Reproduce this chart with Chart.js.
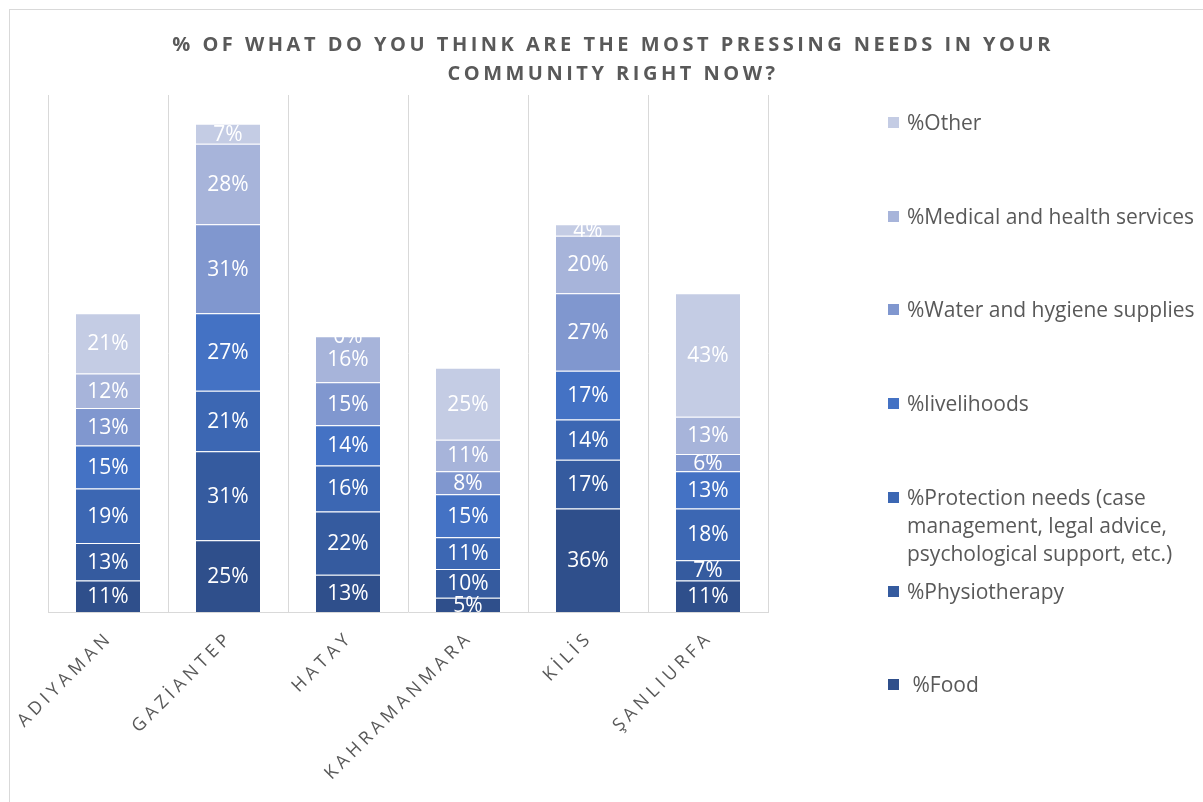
<!DOCTYPE html>
<html>
<head>
<meta charset="utf-8">
<script src="https://cdn.jsdelivr.net/npm/chart.js@4.4.0/dist/chart.umd.min.js"></script>
<style>
  html, body { margin: 0; padding: 0; background: #fff; overflow: hidden; }
  #frame { position: absolute; left: 9px; top: 9px; width: 1230px; height: 830px; border: 1px solid #d9d9d9; }
  #chart { position: absolute; left: 0; top: 0; }
  .item { position: absolute; left: 878px; display: flex; align-items: flex-start;
          font-family: 'Open Sans', sans-serif; font-size: 21px; line-height: 28px; color: #595959; }
  .box { width: 11px; height: 11px; margin-top: 9px; margin-right: 8px; flex: none; }
  .txt { max-width: 295px; white-space: pre-wrap; }
</style>
</head>
<body>
<div id="frame">
  <canvas id="chart" width="1168" height="820"></canvas>
</div>
<script>
let districts = ["ADIYAMAN", "GAZİANTEP", "HATAY", "KAHRAMANMARA", "KİLİS", "ŞANLIURFA"];

// stacked from the bottom up
let seriesNames = [
    " %Food",
    "%Physiotherapy",
    "%Protection needs (case management, legal advice, psychological support, etc.)",
    "%livelihoods",
    "%Water and hygiene supplies",
    "%Medical and health services",
    "%Other"
];
let food        = [11, 25, 13, 5, 36, 11];
let physio      = [13, 31, 22, 10, 17, 7];
let protection  = [19, 21, 16, 11, 14, 18];
let livelihoods = [15, 27, 14, 15, 17, 13];
let water       = [13, 31, 15, 8, 27, 6];
let medical     = [12, 28, 16, 11, 20, 13];
let other       = [21, 7, 0, 25, 4, 43];

let seriesColors = ["#2f4f8b", "#355b9f", "#3c67b3", "#4472c4", "#8097cf", "#a7b4da", "#c4cce4"];

let allSeries = [food, physio, protection, livelihoods, water, medical, other];

// white percentage labels in the middle of every segment
let barValues = {
    id: "barValues",
    afterDatasetsDraw(chart) {
        let ctx = chart.ctx;
        ctx.save();
        ctx.letterSpacing = "0px";
        ctx.font = '21px "Open Sans"';
        ctx.fillStyle = "#ffffff";
        ctx.textAlign = "center";
        ctx.textBaseline = "middle";
        chart.data.datasets.forEach((ds, i) => {
            chart.getDatasetMeta(i).data.forEach((bar, j) => {
                ctx.fillText(ds.data[j] + "%", bar.x, (bar.y + bar.base) / 2 + 1);
            });
        });
        ctx.restore();
    }
};

// spaced-out capitals for the title and the district names
let spacedText = {
    id: "spacedText",
    afterLayout(chart) {
        let sx = chart.scales.x;
        if (sx._spaced) return;
        let orig = sx.drawLabels;
        sx.drawLabels = function(area) {
            chart.ctx.save();
            chart.ctx.letterSpacing = "4.3px";
            orig.call(this, area);
            chart.ctx.restore();
        };
        sx._spaced = true;
    },
    beforeDraw(chart) { chart.ctx.letterSpacing = "3.5px"; },
    beforeDatasetsDraw(chart) { chart.ctx.letterSpacing = "0px"; }
};

let chart = new Chart(document.getElementById("chart"), {
    type: "bar",
    data: {
        labels: districts,
        datasets: allSeries.map((vals, i) => ({
            label: seriesNames[i],
            data: vals,
            backgroundColor: seriesColors[i],
            borderColor: "rgba(255,255,255,0.35)",
            borderWidth: 1,
            categoryPercentage: 1,
            barPercentage: 0.55
        }))
    },
    options: {
        responsive: false,
        animation: false,
        layout: { padding: { left: 38, right: 0, top: 0, bottom: 0 } },
        plugins: {
            legend: { display: false },
            tooltip: { enabled: false },
            title: {
                display: true,
                text: ["% OF WHAT DO YOU THINK ARE THE MOST PRESSING NEEDS IN YOUR", "COMMUNITY RIGHT NOW?"],
                color: "#595959",
                font: { family: "Open Sans", size: 20, weight: "bold", lineHeight: 1.45 },
                padding: { top: 21, bottom: 6 }
            }
        },
        scales: {
            x: {
                stacked: true,
                grid: { color: "#d9d9d9", drawTicks: false, offset: true },
                border: { color: "#d9d9d9" },
                ticks: {
                    color: "#595959",
                    font: { family: "Open Sans", size: 18 },
                    minRotation: 45,
                    maxRotation: 45,
                    autoSkip: false,
                    labelOffset: 2,
                    padding: 15
                },
                afterFit(s) { s.height = 218; }
            },
            y: {
                stacked: true,
                min: 0,
                max: 180,
                position: "right",
                grid: { display: false },
                border: { display: false },
                ticks: { display: false },
                afterFit(s) { s.width = 410; }
            }
        }
    },
    plugins: [barValues, spacedText]
});

// legend on the right, top entry is the last series
let frame = document.getElementById("frame");
chart.data.datasets.slice().reverse().forEach((ds, i) => {
    let item = document.createElement("div");
    item.className = "item";
    item.style.top = (98 + i * 93.7) + "px";
    let box = document.createElement("span");
    box.className = "box";
    box.style.background = ds.backgroundColor;
    let txt = document.createElement("span");
    txt.className = "txt";
    txt.textContent = ds.label;
    item.appendChild(box);
    item.appendChild(txt);
    frame.appendChild(item);
});
</script>
</body>
</html>
